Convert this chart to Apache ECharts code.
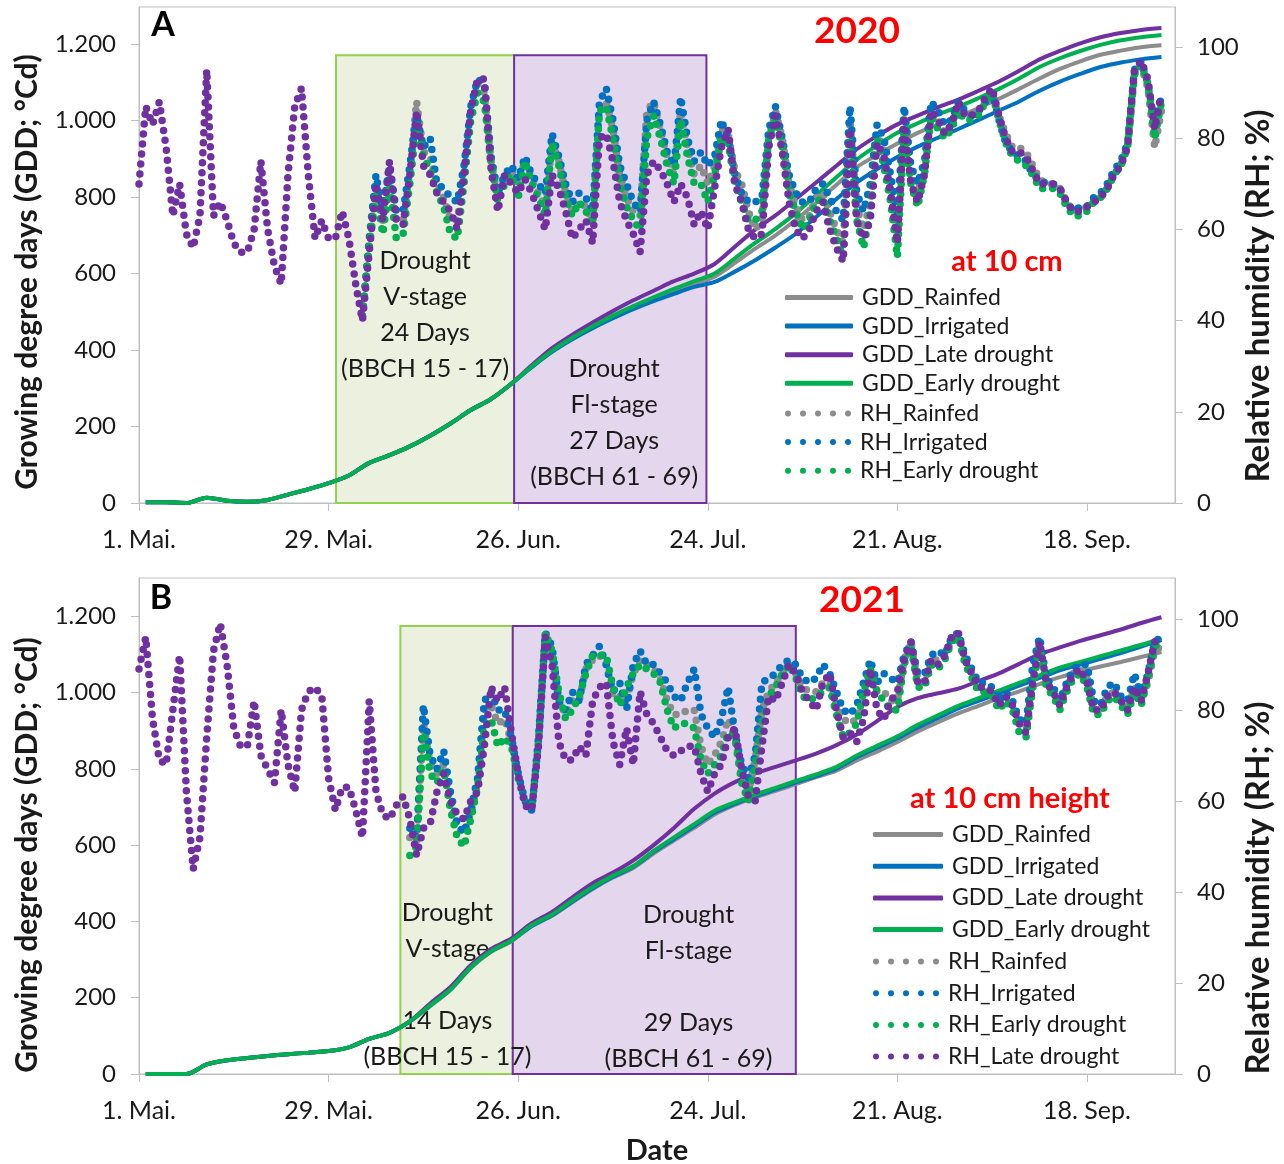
<!DOCTYPE html>
<html>
<head>
<meta charset="utf-8">
<script src="https://cdn.jsdelivr.net/npm/echarts@6/dist/echarts.min.js"></script>
<style>
  html, body { margin: 0; padding: 0; background: #fff; }
  #chart { width: 1284px; height: 1164px; }
</style>
</head>
<body>
<div id="chart"></div>
<script>
// x axis = days after 1 May
var dateTicks = [0, 28, 56, 84, 112, 140];
var dateLabels = ['1. Mai.', '29. Mai.', '26. Jun.', '24. Jul.', '21. Aug.', '18. Sep.'];
var gddTicks = [0, 200, 400, 600, 800, 1000, 1200];
var rhTicks = [0, 20, 40, 60, 80, 100];

var gddNames = ['GDD_Rainfed', 'GDD_Irrigated', 'GDD_Late drought', 'GDD_Early drought'];
var rhNamesA = ['RH_Rainfed', 'RH_Irrigated', 'RH_Early drought'];
var rhNamesB = ['RH_Rainfed', 'RH_Irrigated', 'RH_Early drought', 'RH_Late drought'];

// drought periods (day from, day to) and box top (GDD)
var stagesA = [[29.1, 55.4], [55.4, 83.8]];
var stagesB = [[38.6, 55.2], [55.2, 97.0]];
var stageTopA = 1171, stageTopB = 1174;

// GDD, sampled every 3 days from day 1
var gddDays = [1,4,7,10,13,16,19,22,25,28,31,34,37,40,43,46,49,52,55,58,61,64,67,70,73,76,79,82,85,88,91,94,97,100,103,106,109,112,115,118,121,124,127,130,133,136,139,142,145,148,151];

var gddRainfedA = [2,2,0,14,6,3,8,22,36,52,72,105,125,148,176,208,243,272,312,357,398,430,460,487,512,534,555,574,592,628,665,700,740,785,832,878,910,940,968,990,1010,1033,1057,1083,1110,1135,1155,1172,1183,1192,1197];
var gddIrrigatedA = [2,2,0,14,6,3,8,22,36,52,72,105,125,148,176,208,243,272,312,355,395,428,457,483,507,528,547,565,578,605,635,668,704,748,795,838,873,905,932,955,978,1002,1026,1050,1078,1102,1122,1140,1152,1160,1166];
var gddLateA = [2,2,0,14,6,3,8,22,36,52,72,105,125,148,176,208,243,272,312,360,405,440,472,502,530,555,580,600,625,670,715,752,795,838,882,925,960,990,1013,1035,1055,1078,1102,1130,1160,1182,1202,1218,1229,1237,1242];
var gddEarlyA = [2,2,0,14,6,3,8,22,36,52,72,105,125,148,176,208,243,272,312,357,398,432,462,490,515,538,560,580,600,640,680,717,758,805,852,898,935,968,993,1016,1036,1059,1083,1110,1140,1163,1182,1198,1210,1218,1224];

var gddRainfedB = [0,0,0,25,36,42,47,52,56,60,70,92,108,138,178,220,278,320,348,388,415,450,485,515,540,578,612,645,680,705,725,742,760,778,795,822,845,870,898,922,945,965,985,1003,1022,1040,1055,1068,1080,1093,1106];
var gddIrrigatedB = [0,0,0,25,36,42,47,52,56,60,70,92,108,138,180,222,280,322,350,388,416,452,487,517,543,582,616,650,685,708,728,746,764,781,800,830,855,880,908,933,958,978,998,1018,1038,1058,1073,1088,1103,1120,1138];
var gddLateB = [0,0,0,25,36,42,47,52,56,60,70,92,108,138,185,228,285,328,355,395,425,463,500,528,560,600,645,695,735,765,788,805,822,840,862,890,925,962,985,998,1010,1030,1050,1075,1100,1118,1135,1150,1165,1182,1197];
var gddEarlyB = [0,0,0,25,36,42,47,52,56,60,70,92,108,138,180,222,280,322,350,390,418,455,490,520,545,585,620,655,690,712,732,750,768,785,805,835,860,885,915,940,965,985,1005,1025,1045,1065,1080,1095,1110,1125,1142];

// RH, one value per day; late drought from day 0, the others from rhStart
var rhStartA = 33, rhStartB = 40;

var rhLateA = [
70,87,83,88,78,63,70,59,56,63,
95,63,66,62,57,55,55,60,75,60,
52,48,72,87,91,72,58,62,58,58,
64,58,48,40,55,70,62,75,62,61,
72,86,74,72,68,66,64,60,72,86,
93,93,73,64,72,70,68,71,68,64,
60,72,69,64,58,60,62,57,80,81,
75,66,62,59,55,72,75,73,70,66,
70,67,61,64,60,69,78,82,70,66,
60,58,59,78,85,77,66,60,58,60,
64,66,60,56,53,82,62,58,62,79,
76,68,57,84,70,66,72,86,84,81,
83,88,85,85,86,89,91,85,80,77,
77,76,73,70,70,70,69,66,64,64,
65,66,67,69,72,74,78,95,97,93,
82,90];
var rhIrrigatedA = [
41,58,72,64,74,64,64,74,85,78,
80,70,69,67,66,74,87,93,92,76,
68,72,74,71,76,72,70,68,81,76,
70,66,68,67,64,88,91,84,74,70,
66,64,84,88,83,77,74,89,80,75,
77,74,76,84,80,72,68,66,66,67,
82,87,80,72,68,66,66,69,70,67,
64,62,87,68,64,70,83,80,72,63,
87,74,70,75,88,86,83,84,88,86,
85,86,88,90,84,79,77,76,75,72,
71,70,70,69,66,64,65,65,67,68,
70,73,75,79,95,97,92,83,89];
var rhEarlyA = [
41,56,68,59,70,58,59,70,83,76,
73,68,65,59,58,70,84,90,88,74,
66,70,72,67,75,70,67,63,79,74,
67,63,66,64,61,86,87,80,70,65,
62,60,80,85,80,74,70,84,76,70,
70,66,72,80,79,70,66,62,62,64,
80,84,78,68,64,60,62,66,67,62,
58,54,80,62,56,64,80,74,66,54,
82,70,65,72,85,82,80,82,86,84,
84,85,88,90,84,79,76,75,74,72,
69,69,69,68,65,63,63,64,66,67,
69,72,74,78,94,96,92,80,88];
var rhRainfedA = [
41,57,70,62,72,62,62,73,88,77,
76,70,67,62,62,72,86,92,90,75,
67,71,73,70,75,71,68,65,79,75,
68,64,66,65,62,86,88,82,72,67,
64,63,86,88,82,76,72,86,78,72,
74,70,74,82,81,73,70,64,60,62,
80,86,80,70,65,62,63,67,68,64,
60,57,84,65,60,66,81,77,69,59,
85,72,68,73,86,84,81,83,87,85,
85,86,88,90,85,81,78,78,77,74,
71,70,70,69,66,64,64,65,66,67,
69,72,74,78,94,96,91,78,86];

var rhLateB = [
89,96,78,69,68,80,92,62,45,52,
74,93,99,90,76,72,72,82,70,67,
64,80,68,62,80,84,85,83,65,58,
63,63,58,52,82,62,57,56,59,61,
56,48,54,55,62,66,60,57,56,60,
62,72,85,82,85,75,66,59,58,72,
96,90,73,69,69,72,70,82,85,86,
73,68,76,68,84,79,77,74,71,70,
71,72,72,66,62,66,68,74,76,67,
61,60,72,83,82,86,90,88,84,82,
80,86,88,80,74,75,73,78,89,80,
78,82,84,91,95,86,86,91,90,92,
96,97,91,88,85,85,84,81,83,81,
77,75,86,95,86,84,81,85,88,89,
86,80,80,83,84,82,80,85,82,88,
95,95];
var rhIrrigatedB = [
54,52,81,70,67,71,62,55,53,58,
65,82,84,80,80,74,66,60,58,74,
97,94,82,80,84,82,90,92,94,90,
84,86,80,90,93,90,90,88,86,83,
82,86,89,79,76,74,78,85,75,68,
65,70,86,87,88,90,91,90,87,86,
87,90,88,84,80,79,81,86,91,86,
88,87,86,92,95,88,88,92,93,92,
96,97,92,89,86,86,85,82,84,82,
78,77,90,96,87,85,82,86,89,90,
90,82,81,85,86,83,82,88,83,88,
95,96];
var rhEarlyB = [
48,50,75,66,64,67,58,52,50,56,
63,76,78,72,74,72,65,60,58,73,
97,93,84,78,80,83,88,92,92,92,
85,81,85,88,90,89,88,86,80,76,
77,77,76,69,66,68,70,75,74,64,
60,68,77,83,85,88,90,87,83,82,
83,84,85,79,74,75,77,84,89,84,
82,80,80,90,94,85,85,90,89,91,
95,96,90,87,84,84,83,80,82,80,
75,74,85,94,85,83,80,84,87,88,
85,79,79,82,83,81,79,84,81,87,
94,95];
var rhRainfedB = [
52,51,77,68,66,68,60,54,53,57,
64,80,81,77,78,73,66,60,58,73,
96,92,82,79,82,82,89,91,92,90,
83,83,82,88,91,90,89,87,82,79,
79,80,80,72,68,70,73,78,74,66,
62,69,80,84,86,88,90,88,85,84,
84,86,86,81,78,77,78,84,88,84,
84,82,82,91,95,87,86,91,91,92,
95,96,91,88,85,85,84,81,83,81,
77,76,86,94,86,84,81,85,88,89,
87,80,80,83,84,82,80,85,82,86,
93,94];

var cRainfed = '#8c8c8c', cIrrigated = '#0070c0', cLate = '#7030a0', cEarly = '#00b050';
var FONT = 'Lato';
var TXT = '#1a1a1a';
var dotsIcon = 'path://M0,3a3,3 0 1,0 6,0a3,3 0 1,0 -6,0M15,3a3,3 0 1,0 6,0a3,3 0 1,0 -6,0M30,3a3,3 0 1,0 6,0a3,3 0 1,0 -6,0M45,3a3,3 0 1,0 6,0a3,3 0 1,0 -6,0M60,3a3,3 0 1,0 6,0a3,3 0 1,0 -6,0';

function pairs(days, vals) {
  return vals.map(function (v, i) { return [days[i], v]; });
}
function daily(start, vals) {
  return vals.map(function (v, i) { return [start + i, v]; });
}
function thousands(v) {
  if (v >= 1000) return Math.floor(v / 1000) + '.' + String(v % 1000).padStart(3, '0');
  return String(v);
}

function gddLine(name, color, vals, g) {
  return {
    name: name, type: 'line', xAxisIndex: g, yAxisIndex: g * 2,
    data: pairs(gddDays, vals), symbol: 'none', smooth: 0.3, color: color,
    lineStyle: { width: 4, color: color }, z: 3
  };
}
function rhLine(name, color, data, g, z) {
  return {
    name: name, type: 'line', xAxisIndex: g, yAxisIndex: g * 2 + 1,
    data: data, symbol: 'none', color: color,
    lineStyle: { width: 7.5, color: color, type: [0, 10], cap: 'round' }, z: z
  };
}
function stageBox(stage, top, fill, border, label, pos) {
  return [{
    xAxis: stage[0], yAxis: 0,
    itemStyle: { color: fill, borderColor: border, borderWidth: 2 },
    label: {
      show: true, position: pos, align: 'center', verticalAlign: 'middle',
      formatter: label, fontFamily: FONT, fontSize: 25, lineHeight: 36, color: TXT
    }
  }, { xAxis: stage[1], yAxis: top }];
}

function xAxisCfg(g, name) {
  return {
    type: 'value', gridIndex: g, min: 0, max: 153,
    axisLine: { show: true, lineStyle: { color: '#bfbfbf' } },
    axisTick: { show: true, length: 8, customValues: dateTicks, lineStyle: { color: '#bfbfbf' } },
    axisLabel: {
      customValues: dateTicks, margin: 24, fontFamily: FONT, fontSize: 25, color: TXT,
      formatter: function (v) { return dateLabels[dateTicks.indexOf(v)] || ''; }
    },
    splitLine: { show: false },
    name: name, nameLocation: 'middle', nameGap: 62,
    nameTextStyle: { fontFamily: FONT, fontWeight: 'bold', fontSize: 29, color: TXT }
  };
}
function yLeft(g, max) {
  return {
    type: 'value', gridIndex: g, position: 'left', min: 0, max: max,
    axisLine: { show: true, lineStyle: { color: '#bfbfbf' } },
    axisTick: { show: true, length: 8, customValues: gddTicks, lineStyle: { color: '#bfbfbf' } },
    axisLabel: { customValues: gddTicks, formatter: thousands, margin: 23, fontFamily: FONT, fontSize: 24, color: TXT },
    splitLine: { show: false }
  };
}
function yRight(g, max) {
  return {
    type: 'value', gridIndex: g, position: 'right', min: 0, max: max,
    axisLine: { show: true, lineStyle: { color: '#bfbfbf' } },
    axisTick: { show: true, length: 8, customValues: rhTicks, lineStyle: { color: '#bfbfbf' } },
    axisLabel: { customValues: rhTicks, margin: 22, fontFamily: FONT, fontSize: 24, color: TXT },
    splitLine: { show: false }
  };
}
function legendCfg(names, left, top, icon, w, h, gap) {
  return {
    data: names, orient: 'vertical', left: left, top: top, icon: icon,
    itemWidth: w, itemHeight: h, itemGap: gap, selectedMode: false,
    itemStyle: { borderWidth: 0 },
    textStyle: { fontFamily: FONT, fontSize: 23, lineHeight: 22, color: TXT, padding: [0, 0, 0, 4] }
  };
}
function txt(x, y, s, size, color, rot) {
  return {
    type: 'text', x: x, y: y, rotation: rot || 0, z: 100,
    style: { text: s, fontFamily: FONT, fontWeight: 'bold', fontSize: size, fill: color, align: 'center', verticalAlign: 'middle' }
  };
}

var seriesA = [
  gddLine('GDD_Rainfed', cRainfed, gddRainfedA, 0),
  gddLine('GDD_Irrigated', cIrrigated, gddIrrigatedA, 0),
  gddLine('GDD_Late drought', cLate, gddLateA, 0),
  gddLine('GDD_Early drought', cEarly, gddEarlyA, 0),
  rhLine('RH_Rainfed', cRainfed, daily(rhStartA, rhRainfedA), 0, 5),
  rhLine('RH_Irrigated', cIrrigated, daily(rhStartA, rhIrrigatedA), 0, 6),
  rhLine('RH_Early drought', cEarly, daily(rhStartA, rhEarlyA), 0, 7),
  rhLine('RH_Late drought', cLate, daily(0, rhLateA), 0, 8)
];
seriesA[0].markArea = {
  silent: true,
  data: [
    stageBox(stagesA[0], stageTopA, '#ebf1de', '#92d050', 'Drought\nV-stage\n24 Days\n(BBCH 15 - 17)', ['50%', '58%']),
    stageBox(stagesA[1], stageTopA, '#e4d7ed', '#7030a0', 'Drought\nFl-stage\n27 Days\n(BBCH 61 - 69)', ['52%', '82%'])
  ]
};
var seriesB = [
  gddLine('GDD_Rainfed', cRainfed, gddRainfedB, 1),
  gddLine('GDD_Irrigated', cIrrigated, gddIrrigatedB, 1),
  gddLine('GDD_Late drought', cLate, gddLateB, 1),
  gddLine('GDD_Early drought', cEarly, gddEarlyB, 1),
  rhLine('RH_Rainfed', cRainfed, daily(rhStartB, rhRainfedB), 1, 5),
  rhLine('RH_Irrigated', cIrrigated, daily(rhStartB, rhIrrigatedB), 1, 6),
  rhLine('RH_Early drought', cEarly, daily(rhStartB, rhEarlyB), 1, 7),
  rhLine('RH_Late drought', cLate, daily(0, rhLateB), 1, 8)
];
seriesB[0].markArea = {
  silent: true,
  data: [
    stageBox(stagesB[0], stageTopB, '#ebf1de', '#92d050', 'Drought\nV-stage\n\n14 Days\n(BBCH 15 - 17)', ['42%', '80%']),
    stageBox(stagesB[1], stageTopB, '#e4d7ed', '#7030a0', 'Drought\nFl-stage\n\n29 Days\n(BBCH 61 - 69)', ['62%', '80.5%'])
  ]
};

var chart = echarts.init(document.getElementById('chart'));
chart.setOption({
  animation: false,
  backgroundColor: '#fff',
  textStyle: { fontFamily: FONT },
  grid: [
    { left: 139, top: 7, width: 1036, height: 496, show: true, borderColor: '#bfbfbf', borderWidth: 1, outerBoundsMode: 'none' },
    { left: 139, top: 578, width: 1036, height: 496, show: true, borderColor: '#bfbfbf', borderWidth: 1, outerBoundsMode: 'none' }
  ],
  xAxis: [xAxisCfg(0, ''), xAxisCfg(1, 'Date')],
  yAxis: [yLeft(0, 1297), yRight(0, 108.8), yLeft(1, 1300), yRight(1, 109)],
  legend: [
    legendCfg(gddNames, 780, 281, 'roundRect', 68, 5, 5.6),
    legendCfg(rhNamesA, 780, 397, dotsIcon, 66, 6, 5.6),
    legendCfg(gddNames, 868, 818, 'roundRect', 70, 5, 8.7),
    legendCfg(rhNamesB, 868, 945, dotsIcon, 66, 6, 8.7)
  ],
  graphic: [
    txt(163, 25, 'A', 34, '#000'),
    txt(857, 31, '2020', 37, '#ff0000'),
    txt(1007, 262, 'at 10 cm', 29, '#ff0000'),
    txt(161, 598, 'B', 34, '#000'),
    txt(862, 600, '2021', 37, '#ff0000'),
    txt(1010, 799, 'at 10 cm height', 29, '#ff0000'),
    txt(27, 272, 'Growing degree days (GDD; °Cd)', 30, TXT, Math.PI / 2),
    txt(1258, 296, 'Relative humidity (RH; %)', 33, TXT, Math.PI / 2),
    txt(27, 855, 'Growing degree days (GDD; °Cd)', 30, TXT, Math.PI / 2),
    txt(1258, 888, 'Relative humidity (RH; %)', 33, TXT, Math.PI / 2)
  ],
  series: seriesA.concat(seriesB)
});
</script>
</body>
</html>
